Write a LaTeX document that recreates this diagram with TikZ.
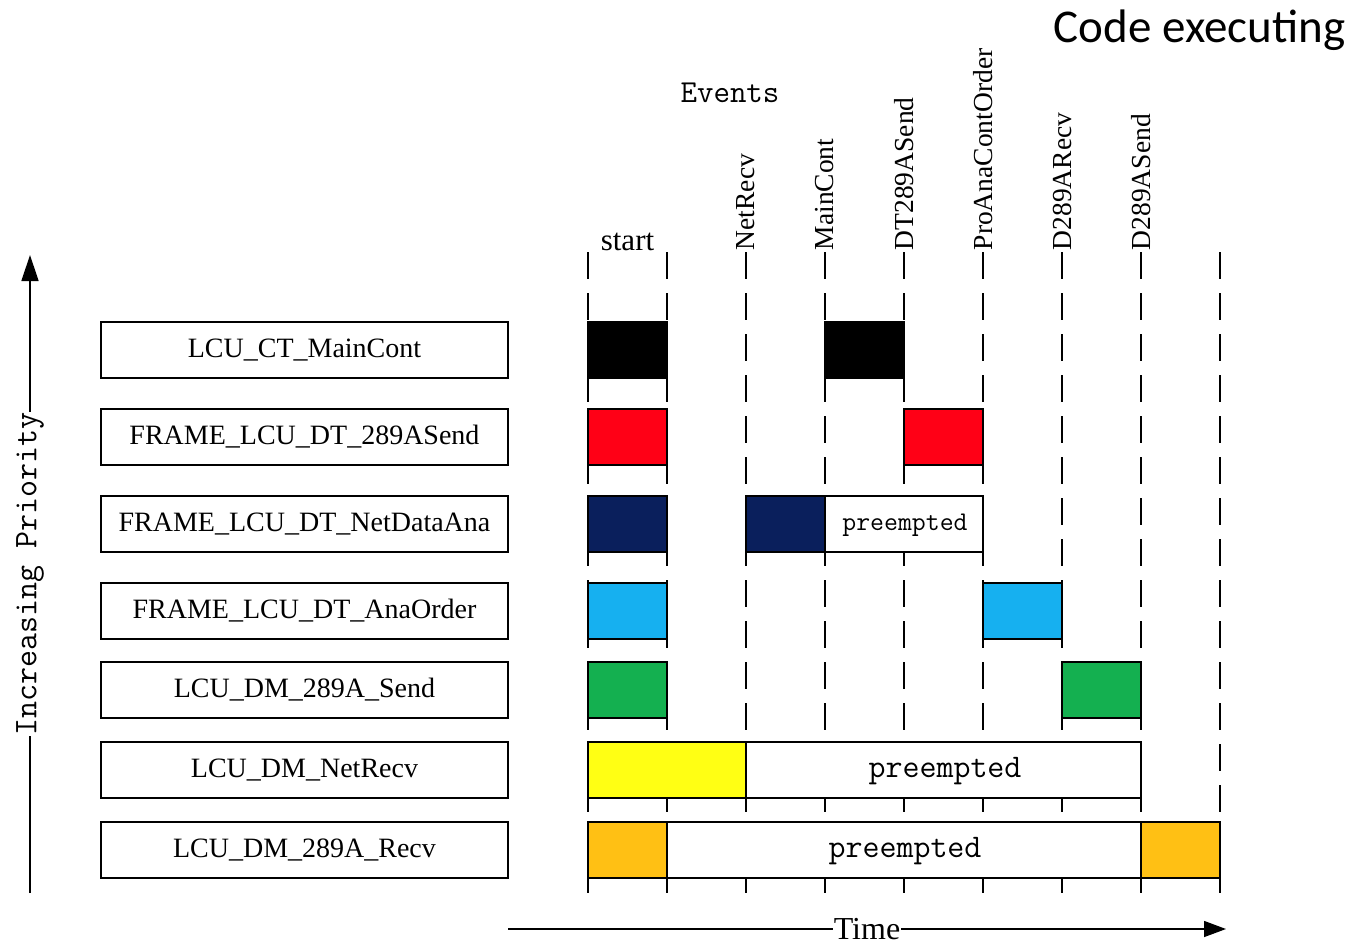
\documentclass[tikz,border=0pt]{standalone}
\usepackage{fontspec}
\setmainfont{Liberation Serif}
\newfontfamily\codefont{Carlito}
\usepackage{tikz}
\usetikzlibrary{arrows.meta}

\definecolor{runblack}{RGB}{0,0,0}
\definecolor{runred}{RGB}{255,0,22}
\definecolor{runnavy}{RGB}{10,31,92}
\definecolor{runsky}{RGB}{22,176,240}
\definecolor{rungreen}{RGB}{20,176,80}
\definecolor{runyellow}{RGB}{255,255,20}
\definecolor{runorange}{RGB}{255,192,20}

\begin{document}
\begin{tikzpicture}[
  x=1pt, y=-1pt,
  line width=1.6pt,
  taskbox/.style={draw, minimum width=407pt, minimum height=56pt, inner sep=0pt,
    font=\fontsize{28}{30}\selectfont},
  timeline/.style={dash pattern=on 27pt off 14pt, line width=1.8pt},
  evlabel/.style={rotate=90, anchor=west, inner sep=0pt,
    font=\fontsize{27.5}{30}\selectfont},
  slot/.style={draw, fill=#1},
  waitlabel/.style={inner sep=0pt, font=\ttfamily\fontsize{33}{36}\selectfont},
  axislabel/.style={fill=white, inner xsep=1pt, inner ysep=0pt}
]
\useasboundingbox (0,0) rectangle (1350,945);

% time grid
\foreach \x in {588,667,...,1220}
  \draw[timeline] (\x,252) -- (\x,893);

% tasks
\foreach \name/\y/\task in {
  ct/350/LCU\_CT\_MainCont,
  dtsend/437/FRAME\_LCU\_DT\_289ASend,
  dtnet/524/FRAME\_LCU\_DT\_NetDataAna,
  dtana/611/FRAME\_LCU\_DT\_AnaOrder,
  dmsend/690/LCU\_DM\_289A\_Send,
  dmnet/770/LCU\_DM\_NetRecv,
  dmrecv/850/LCU\_DM\_289A\_Recv%
} {
  \node[taskbox] (\name) at (304.5,\y) {\task};
}

% running and preempted slots
\foreach \xa/\xb/\y/\col in {
  588/667/350/runblack, 825/904/350/runblack,
  588/667/437/runred, 904/983/437/runred,
  588/667/524/runnavy, 746/825/524/runnavy, 825/983/524/white,
  588/667/611/runsky, 983/1062/611/runsky,
  588/667/690/rungreen, 1062/1141/690/rungreen,
  588/746/770/runyellow, 746/1141/770/white,
  588/667/850/runorange, 667/1141/850/white, 1141/1220/850/runorange%
} {
  \draw[slot=\col] (\xa,\y-28) rectangle (\xb,\y+28);
}
\node[waitlabel, font=\ttfamily\fontsize{27}{30}\selectfont] (wait3) at (905,525) {preempted};
\node[waitlabel] (wait6) at (945,771) {preempted};
\node[waitlabel] (wait7) at (905,851) {preempted};

% events
\node[anchor=base, inner sep=0pt, font=\fontsize{31}{34}\selectfont] (start) at (627.5,250) {start};
\foreach \x/\ev in {746/NetRecv, 825/MainCont, 904/DT289ASend,
  983/ProAnaContOrder, 1062/D289ARecv, 1141/D289ASend}
  \node[evlabel] (ev\x) at (\x,251) {\ev};
\node[font=\ttfamily\fontsize{32}{34}\selectfont] (events) at (730,93) {Events};
\node[anchor=base east, inner sep=0pt, font=\codefont\fontsize{47}{50}\selectfont] (code) at (1346,42) {Code executing};

% axes
\coordinate (pbot) at (30,893);
\coordinate (ptop) at (30,255);
\draw[line width=1.4pt, -{Triangle[length=26pt,width=17pt]}] (pbot) -- (ptop)
  node[axislabel, midway, rotate=90, font=\ttfamily\fontsize{33}{36}\selectfont] (prio) {Increasing Priority};
\coordinate (tleft) at (508,929);
\coordinate (tright) at (1226,929);
\draw[line width=1.4pt, -{Triangle[length=22pt,width=16pt]}] (tleft) -- (tright)
  node[axislabel, midway, font=\fontsize{32}{34}\selectfont] (time) {Time};
\end{tikzpicture}
\end{document}
